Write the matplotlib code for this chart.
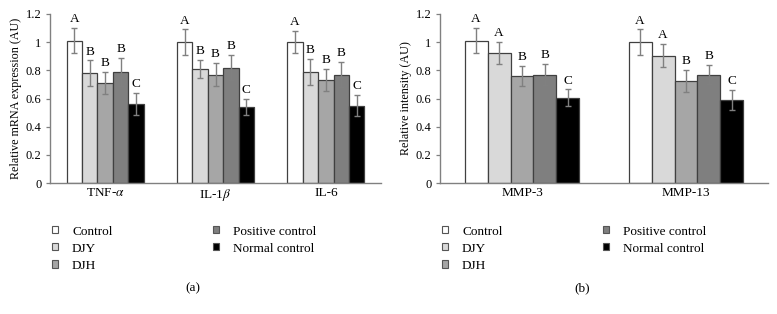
import matplotlib
matplotlib.use("Agg")
import matplotlib.pyplot as plt
import numpy as np
from matplotlib.patches import Patch

plt.rcParams['font.family'] = ['Liberation Serif', 'DejaVu Serif']
plt.rcParams['mathtext.fontset'] = 'stix'

groups = ["Control", "DJY", "DJH", "Positive control", "Normal control"]
colors = ["#ffffff", "#d9d9d9", "#a6a6a6", "#7f7f7f", "#000000"]

cats_a = ["TNF-$\\alpha$", "IL-1$\\beta$", "IL-6"]
vals_a = [
    [1.01, 1.00, 1.00],   # Control
    [0.78, 0.81, 0.79],   # DJY
    [0.71, 0.77, 0.73],   # DJH
    [0.79, 0.82, 0.77],   # Positive control
    [0.56, 0.54, 0.55],   # Normal control
]
errs_a = [
    [0.09, 0.09, 0.08],
    [0.09, 0.065, 0.094],
    [0.08, 0.083, 0.08],
    [0.10, 0.09, 0.09],
    [0.08, 0.055, 0.075],
]
letters_a = [
    ["A", "A", "A"],
    ["B", "B", "B"],
    ["B", "B", "B"],
    ["B", "B", "B"],
    ["C", "C", "C"],
]

cats_b = ["MMP-3", "MMP-13"]
vals_b = [
    [1.01, 1.00],
    [0.925, 0.905],
    [0.76, 0.725],
    [0.77, 0.77],
    [0.605, 0.59],
]
errs_b = [
    [0.09, 0.09],
    [0.077, 0.08],
    [0.07, 0.076],
    [0.075, 0.07],
    [0.06, 0.073],
]
letters_b = [
    ["A", "A"],
    ["A", "A"],
    ["B", "B"],
    ["B", "B"],
    ["C", "C"],
]

W, H = 777, 314
fig = plt.figure(figsize=(W / 100, H / 100), dpi=100)

def draw(ax, cats, vals, errs, letters, ylabel):
    n = len(cats)
    x = np.arange(n)
    bw = 0.14
    for i in range(len(groups)):
        xs = x + (i - 2) * bw
        ax.bar(xs, vals[i], width=bw, color=colors[i], edgecolor="#404040",
               linewidth=0.9, zorder=2)
        ax.errorbar(xs, vals[i], yerr=errs[i], fmt="none", ecolor="#808080",
                    elinewidth=1.0, capsize=2, capthick=1.0, zorder=3)
        for xx, v, e, l in zip(xs, vals[i], errs[i], letters[i]):
            ax.text(xx, v + e + 0.02, l, ha="center", va="bottom", fontsize=9.5)
    ax.set_xlim(-0.5, n - 0.5)
    ax.set_ylim(0, 1.2)
    ax.set_yticks(np.arange(0, 1.21, 0.2))
    ax.set_yticklabels(["0", "0.2", "0.4", "0.6", "0.8", "1", "1.2"])
    ax.set_xticks(x)
    ax.set_xticklabels(cats)
    ax.tick_params(axis="x", length=0, labelsize=9.5, pad=3)
    ax.tick_params(axis="y", length=3, width=0.9, color="#808080", labelsize=9, pad=3)
    for s in ["top", "right"]:
        ax.spines[s].set_visible(False)
    for s in ["left", "bottom"]:
        ax.spines[s].set_color("#808080")
        ax.spines[s].set_linewidth(1.0)
    ax.set_ylabel(ylabel, fontsize=8.7, labelpad=3)

axa = fig.add_axes([50 / W, 1 - 183 / H, 331 / W, 169 / H])
axb = fig.add_axes([440 / W, 1 - 183 / H, 328 / W, 169 / H])
draw(axa, cats_a, vals_a, errs_a, letters_a, "Relative mRNA expression (AU)")
draw(axb, cats_b, vals_b, errs_b, letters_b, "Relative intensity (AU)")

handles = [Patch(facecolor=c, edgecolor="#555555", linewidth=0.8) for c in colors]
for x0 in (49, 439):
    fig.legend(handles, groups, ncol=2, loc="upper left",
               bbox_to_anchor=(x0 / W, 1 - 223 / H), frameon=False,
               fontsize=9.5, handlelength=0.45, handleheight=0.45,
               handletextpad=1.1, columnspacing=7.6, labelspacing=0.38,
               borderaxespad=0, borderpad=0.2)

fig.text(193 / W, 1 - 288 / H, "(a)", ha="center", va="center", fontsize=9.5)
fig.text(582 / W, 1 - 288 / H, "(b)", ha="center", va="center", fontsize=9.5)

fig.savefig("out.png", dpi=100)
